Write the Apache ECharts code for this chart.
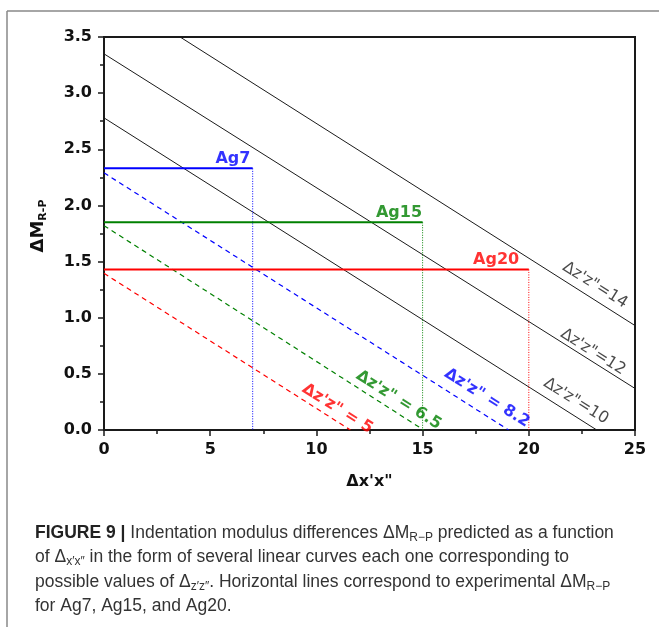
<!DOCTYPE html>
<html>
<head>
<meta charset="utf-8">
<script src="https://cdn.jsdelivr.net/npm/echarts@6/dist/echarts.min.js"></script>
<style>
html,body{margin:0;padding:0;background:#fff;}
#chart{width:659px;height:627px;}
</style>
</head>
<body>
<div id="chart"></div>
<script>
// ---- data ----
// solid black lines: value at x=0, end point
const blackNames = ['Δz\'z"=10', 'Δz\'z"=12', 'Δz\'z"=14'];
const blackStartY = [2.78, 3.35, 3.93];
const blackEndX = [23.2, 25, 25];
const blackEndY = [0, 0.37, 0.93];
const blackLabelX = [22.22, 23.02, 23.12];
const blackLabelY = [0.258, 0.695, 1.29];

// dashed coloured lines
const dashNames = ['Δz\'z" = 5', 'Δz\'z" = 6.5', 'Δz\'z" = 8.2'];
const dashStartY = [1.395, 1.82, 2.29];
const dashEndX = [11.6, 15.05, 19.05];
const dashLabelX = [10.99, 13.87, 18.03];
const dashLabelY = [0.19, 0.267, 0.285];

// experimental samples
const sampleNames = ['Ag7', 'Ag15', 'Ag20'];
const sampleX = [7, 15, 20];
const sampleM = [2.33, 1.85, 1.43];
const sampleLabelX = [6.07, 13.89, 18.46];
const sampleLabelY = [2.418, 1.937, 1.518];

const xTicks = [0, 5, 10, 15, 20, 25];
const yTicks = [0, 0.5, 1.0, 1.5, 2.0, 2.5, 3.0, 3.5];

const colors = ['#ff0000', '#008000', '#0000ff'];
const sampleColors = ['#0000ff', '#008000', '#ff0000'];

const FONT = 'DejaVu Sans';

const series = [];
for (let i = 0; i < blackNames.length; i++) {
  series.push({
    type: 'line', name: blackNames[i], symbol: 'none', clip: true, silent: true,
    data: [[0, blackStartY[i]], [blackEndX[i], blackEndY[i]]],
    lineStyle: { color: '#1a1a1a', width: 1 }
  });
}
for (let i = 0; i < dashNames.length; i++) {
  series.push({
    type: 'line', name: dashNames[i], symbol: 'none', clip: true, silent: true,
    data: [[0, dashStartY[i]], [dashEndX[i], 0]],
    lineStyle: { color: colors[i], width: 1.2, type: [5, 4] }
  });
}
for (let i = 0; i < sampleNames.length; i++) {
  series.push({
    type: 'line', name: sampleNames[i], symbol: 'none', silent: true,
    data: [[0, sampleM[i]], [sampleX[i], sampleM[i]]],
    lineStyle: { color: sampleColors[i], width: 2 }
  });
  series.push({
    type: 'line', name: sampleNames[i] + ' drop', symbol: 'none', silent: true,
    data: [[sampleX[i], sampleM[i]], [sampleX[i], 0]],
    lineStyle: { color: sampleColors[i], width: 1, type: [1, 1.5] }
  });
}
// labels
function labelSeries(xs, ys, names, cols, rotate, bold) {
  return {
    type: 'scatter', symbolSize: 0, silent: true, z: 5,
    data: names.map((n, i) => ({
      value: [xs[i], ys[i]],
      label: { color: Array.isArray(cols) ? cols[i] : cols }
    })),
    label: {
      show: true, position: 'inside', rotate: rotate,
      formatter: p => names[p.dataIndex],
      fontFamily: FONT, fontSize: 16, fontWeight: bold ? 'bold' : 'normal',
      align: 'center', verticalAlign: 'middle'
    }
  };
}
series.push(labelSeries(blackLabelX, blackLabelY, blackNames, '#1a1a1a', -32, false));
series.push(labelSeries(dashLabelX, dashLabelY, dashNames, colors, -32, true));
series.push(labelSeries(sampleLabelX, sampleLabelY, sampleNames, sampleColors, 0, true));

const capBase = { fontFamily: 'Liberation Sans', fontSize: 17.5, lineHeight: 22, fill: '#333' };
const capRich = {
  b: { fontFamily: 'Liberation Sans', fontSize: 17.5, fontWeight: 'bold', lineHeight: 22, fill: '#222' },
  s: { fontFamily: 'Liberation Sans', fontSize: 12, lineHeight: 13, verticalAlign: 'bottom', fill: '#333' }
};
const capLines = [
  '{b|FIGURE 9 |} Indentation modulus differences ΔM{s|R−P} predicted as a function',
  'of Δ{s|x′x″} in the form of several linear curves each one corresponding to',
  'possible values of Δ{s|z′z″}. Horizontal lines correspond to experimental ΔM{s|R−P}',
  'for Ag7, Ag15, and Ag20.'
];
const capY = [533, 557, 582, 606];

const graphic = [
  { type: 'line', shape: { x1: 7, y1: 11, x2: 659, y2: 11 }, style: { stroke: '#888', lineWidth: 1.5 } },
  { type: 'line', shape: { x1: 7, y1: 11, x2: 7, y2: 627 }, style: { stroke: '#888', lineWidth: 1.5 } },
  {
    type: 'text', x: 38, y: 226, rotation: Math.PI / 2,
    style: {
      text: '{a|ΔM}{b|R-P}', align: 'center', verticalAlign: 'middle', lineHeight: 22,
      rich: {
        a: { fontFamily: FONT, fontSize: 18, fontWeight: 'bold', fill: '#111', lineHeight: 22 },
        b: { fontFamily: FONT, fontSize: 11, fontWeight: 'bold', fill: '#111', lineHeight: 12, verticalAlign: 'bottom' }
      }
    }
  }
];
capLines.forEach((t, i) => {
  graphic.push({
    type: 'text', x: 35, y: capY[i],
    style: Object.assign({ text: t, align: 'left', verticalAlign: 'middle', rich: capRich }, capBase)
  });
});

const chart = echarts.init(document.getElementById('chart'), null, { renderer: 'canvas' });
chart.setOption({
  animation: false,
  backgroundColor: '#fff',
  grid: { left: 104, right: 24, top: 37, bottom: 197, show: true, borderColor: '#1a1a1a', borderWidth: 2, containLabel: false },
  xAxis: {
    type: 'value', min: xTicks[0], max: xTicks[xTicks.length - 1], interval: xTicks[1] - xTicks[0],
    name: 'Δx\'x"', nameLocation: 'middle', nameGap: 44,
    nameTextStyle: { fontFamily: FONT, fontSize: 16, fontWeight: 'bold', color: '#111' },
    axisLine: { show: true, lineStyle: { color: '#1a1a1a', width: 2 } },
    axisTick: { show: true, inside: false, length: 6, lineStyle: { color: '#1a1a1a', width: 1.5 } },
    minorTick: { show: true, splitNumber: 2, length: 4, lineStyle: { color: '#1a1a1a', width: 1.5 } },
    splitLine: { show: false },
    axisLabel: { fontFamily: FONT, fontSize: 16, fontWeight: 'bold', color: '#111', margin: 12 }
  },
  yAxis: {
    type: 'value', min: yTicks[0], max: yTicks[yTicks.length - 1], interval: yTicks[1] - yTicks[0],
    axisLine: { show: true, lineStyle: { color: '#1a1a1a', width: 2 } },
    axisTick: { show: true, inside: false, length: 6, lineStyle: { color: '#1a1a1a', width: 1.5 } },
    minorTick: { show: true, splitNumber: 2, length: 4, lineStyle: { color: '#1a1a1a', width: 1.5 } },
    splitLine: { show: false },
    axisLabel: { fontFamily: FONT, fontSize: 16, fontWeight: 'bold', color: '#111', margin: 12,
      formatter: v => v.toFixed(1) }
  },
  series: series,
  graphic: graphic
});
</script>
</body>
</html>
